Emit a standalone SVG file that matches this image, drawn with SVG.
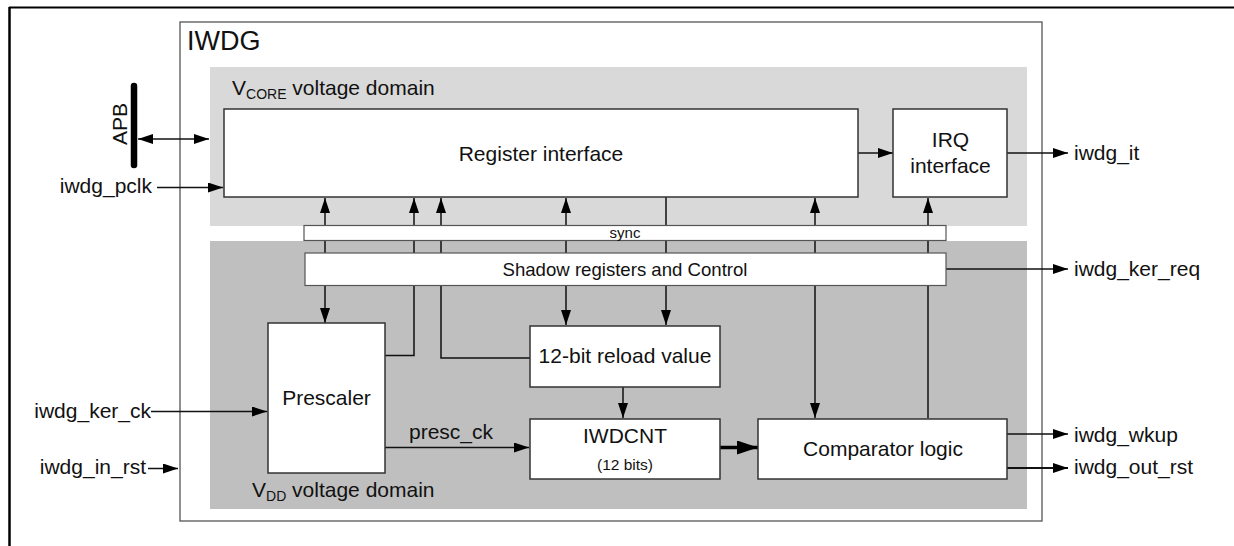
<svg xmlns="http://www.w3.org/2000/svg" width="1234" height="546" viewBox="0 0 1234 546">
<style>
text{font-family:"Liberation Sans",Arial,sans-serif;fill:#111}
.t21{font-size:21px}
.box{fill:#fff;stroke:#333;stroke-width:1.5}
.bar{fill:#fff;stroke:#555;stroke-width:1.2}
.ln{fill:none;stroke:#111;stroke-width:1.5}
</style>
<defs>
<marker id="ah" markerUnits="userSpaceOnUse" markerWidth="15" markerHeight="10" refX="15" refY="5" orient="auto-start-reverse">
<path d="M0,0 L15,5 L0,10 z" fill="#000"/>
</marker>
<marker id="ahb" markerUnits="userSpaceOnUse" markerWidth="21" markerHeight="14" refX="21" refY="7" orient="auto">
<path d="M0,0 L21,7 L0,14 z" fill="#000"/>
</marker>
</defs>

<!-- page frame -->
<line x1="9" y1="7.5" x2="1234" y2="7.5" stroke="#000" stroke-width="2.2"/>
<line x1="9.5" y1="7" x2="9.5" y2="546" stroke="#000" stroke-width="2.5"/>

<g id="iwdg">
<rect x="180" y="22" width="862" height="499" fill="#fff" stroke="#555" stroke-width="1.3"/>
<text x="187" y="50" style="font-size:27px">IWDG</text>
</g>

<g id="vcore-domain">
<rect x="210" y="67" width="817" height="159" fill="#d9d9d9"/>
<text x="232" y="95" class="t21">V<tspan style="font-size:14px" dy="4">CORE</tspan><tspan dy="-4"> voltage domain</tspan></text>
</g>

<g id="vdd-domain">
<rect x="210" y="241" width="817" height="268" fill="#bfbfbf"/>
<text x="252" y="497" class="t21">V<tspan style="font-size:14px" dy="4">DD</tspan><tspan dy="-4"> voltage domain</tspan></text>
</g>

<g id="apb">
<line x1="134" y1="86" x2="134" y2="165" stroke="#000" stroke-width="6.5" stroke-linecap="round"/>
<text transform="translate(127,124) rotate(-90)" text-anchor="middle" class="t21">APB</text>
</g>

<g id="connectors">
<line class="ln" x1="138" y1="139" x2="209" y2="139" marker-start="url(#ah)" marker-end="url(#ah)"/>
<line class="ln" x1="157" y1="187.5" x2="223" y2="187.5" marker-end="url(#ah)"/>
<line class="ln" x1="858" y1="153" x2="893" y2="153" marker-end="url(#ah)"/>
<line class="ln" x1="1007" y1="153" x2="1068" y2="153" marker-end="url(#ah)"/>
<line class="ln" x1="946" y1="269" x2="1068" y2="269" marker-end="url(#ah)"/>
<line class="ln" x1="325" y1="198" x2="325" y2="323" marker-start="url(#ah)" marker-end="url(#ah)"/>
<polyline class="ln" points="385,355.5 414,355.5 414,198" marker-end="url(#ah)"/>
<polyline class="ln" points="530,358 441,358 441,198" marker-end="url(#ah)"/>
<line class="ln" x1="566" y1="198" x2="566" y2="325" marker-start="url(#ah)" marker-end="url(#ah)"/>
<line class="ln" x1="666" y1="197" x2="666" y2="325" marker-end="url(#ah)"/>
<line class="ln" x1="815" y1="198" x2="815" y2="418" marker-start="url(#ah)" marker-end="url(#ah)"/>
<line class="ln" x1="928" y1="418" x2="928" y2="198" marker-end="url(#ah)"/>
<line class="ln" x1="151" y1="411.5" x2="267" y2="411.5" marker-end="url(#ah)"/>
<line class="ln" x1="148" y1="468.5" x2="178" y2="468.5" marker-end="url(#ah)"/>
<line class="ln" x1="385" y1="447.5" x2="529" y2="447.5" marker-end="url(#ah)"/>
<line class="ln" x1="623" y1="387" x2="623" y2="418" marker-end="url(#ah)"/>
<line x1="720" y1="447.5" x2="758" y2="447.5" stroke="#000" stroke-width="3.5" marker-end="url(#ahb)"/>
<line class="ln" x1="1007" y1="434" x2="1068" y2="434" marker-end="url(#ah)"/>
<line x1="1007" y1="468" x2="1068" y2="468" stroke="#111" stroke-width="2" marker-end="url(#ah)"/>
</g>

<g id="register-interface">
<rect class="box" x="224" y="109" width="634" height="88"/>
<text x="541" y="160.5" text-anchor="middle" class="t21">Register interface</text>
</g>

<g id="irq-interface">
<rect class="box" x="893" y="109" width="114" height="88"/>
<text x="950.5" y="147" text-anchor="middle" class="t21">IRQ</text>
<text x="950.5" y="172.5" text-anchor="middle" class="t21">interface</text>
</g>

<g id="sync">
<rect class="bar" x="304" y="225.5" width="642" height="15"/>
<text x="625" y="238" text-anchor="middle" style="font-size:15px">sync</text>
</g>

<g id="shadow">
<rect class="bar" x="305" y="253" width="641" height="32.5"/>
<text x="625" y="275.5" text-anchor="middle" style="font-size:18.6px">Shadow registers and Control</text>
</g>

<g id="prescaler">
<rect class="box" x="268" y="323" width="117" height="150"/>
<text x="326.5" y="405" text-anchor="middle" class="t21">Prescaler</text>
</g>

<g id="reload">
<rect class="box" x="530" y="326" width="190" height="61"/>
<text x="625" y="362.5" text-anchor="middle" class="t21">12-bit reload value</text>
</g>

<g id="iwdcnt">
<rect class="box" x="530" y="419" width="190" height="60"/>
<text x="625" y="442.5" text-anchor="middle" class="t21">IWDCNT</text>
<text x="625" y="469.5" text-anchor="middle" style="font-size:15.5px">(12 bits)</text>
</g>

<g id="comparator">
<rect class="box" x="758" y="419" width="249" height="60"/>
<text x="883" y="455.5" text-anchor="middle" class="t21">Comparator logic</text>
</g>

<g id="labels">
<text x="152" y="192.5" text-anchor="end" class="t21">iwdg_pclk</text>
<text x="1074" y="159.5" class="t21">iwdg_it</text>
<text x="1074" y="276" class="t21">iwdg_ker_req</text>
<text x="151" y="417.5" text-anchor="end" class="t21">iwdg_ker_ck</text>
<text x="146" y="473.5" text-anchor="end" class="t21">iwdg_in_rst</text>
<text x="409" y="438.5" class="t21">presc_ck</text>
<text x="1074" y="441.5" class="t21">iwdg_wkup</text>
<text x="1074" y="473.5" class="t21">iwdg_out_rst</text>
</g>
</svg>
